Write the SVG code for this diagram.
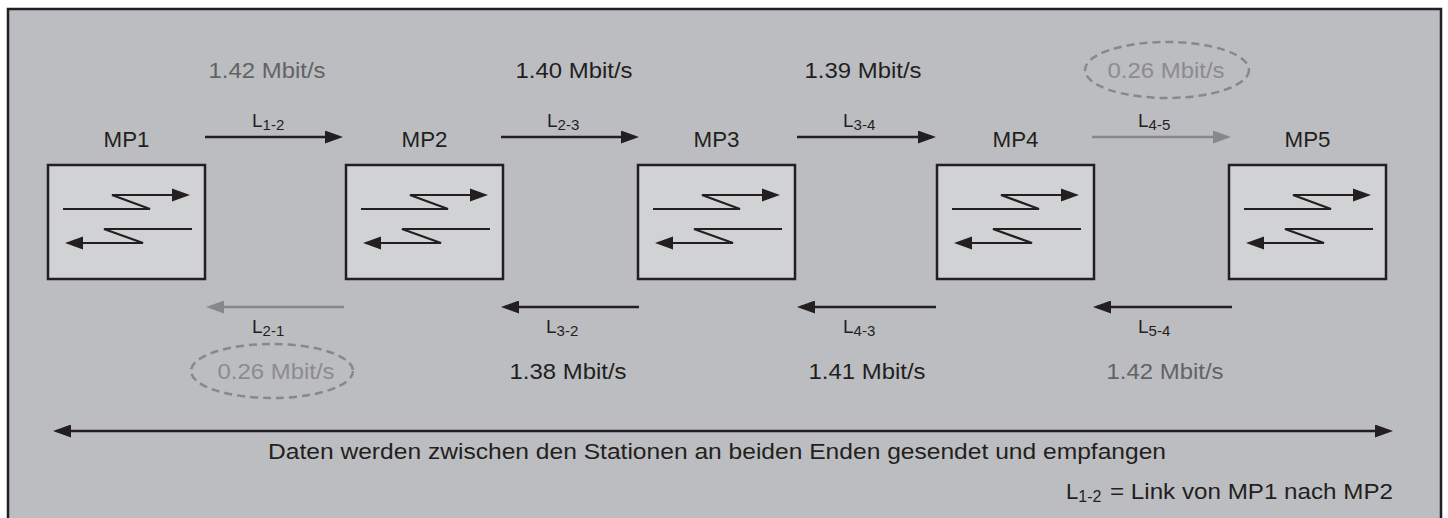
<svg xmlns="http://www.w3.org/2000/svg" xmlns:xlink="http://www.w3.org/1999/xlink" width="1448" height="518" viewBox="0 0 1448 518">
<style>
text{font-family:"Liberation Sans",Arial,Helvetica,sans-serif;fill:#231f20}
.mp{font-size:22px;text-anchor:middle}
.rate{font-size:22px;text-anchor:middle}
.gray{fill:#626365}
.light{fill:#8b8c8f}
.lbl{font-size:19px}
.sub{font-size:15px}
.box{fill:#d1d2d4;stroke:#231f20;stroke-width:2.5}
.sym{fill:none;stroke:#231f20;stroke-width:2.2}
.head{fill:#231f20}
.conn{stroke:#231f20;stroke-width:2.5;fill:none}
.conn.g{stroke:#87888a}
.ell{fill:none;stroke:#87888a;stroke-width:2.5;stroke-dasharray:8 5}
</style>
<defs>
<marker id="ah" markerUnits="userSpaceOnUse" markerWidth="18" markerHeight="13" refX="14" refY="6.5" orient="auto-start-reverse">
<path d="M0,0 L18,6.5 L0,13 z" fill="#231f20"/>
</marker>
<marker id="ahg" markerUnits="userSpaceOnUse" markerWidth="18" markerHeight="13" refX="14" refY="6.5" orient="auto-start-reverse">
<path d="M0,0 L18,6.5 L0,13 z" fill="#87888a"/>
</marker>
<g id="sym">
<path class="sym" d="M15,44 H102 L64,30 H126"/>
<path class="head" d="M124,23.5 L142,30 L124,36.5 z"/>
<path class="sym" d="M144,64 H56 L95,78 H32"/>
<path class="head" d="M35,71.5 L17,78 L35,84.5 z"/>
</g>
</defs>
<rect x="0" y="0" width="1448" height="518" fill="#ffffff"/>
<rect x="8" y="9" width="1433" height="530" fill="#bcbdc0" stroke="#231f20" stroke-width="2.5"/>

<g id="mp1" transform="translate(48,165)">
<rect class="box" width="157" height="114"/>
<use href="#sym" xlink:href="#sym"/>
<text class="mp" x="78.5" y="-18" textLength="46" lengthAdjust="spacingAndGlyphs">MP1</text>
</g>
<g id="mp2" transform="translate(346,165)">
<rect class="box" width="157" height="114"/>
<use href="#sym" xlink:href="#sym"/>
<text class="mp" x="78.5" y="-18" textLength="46" lengthAdjust="spacingAndGlyphs">MP2</text>
</g>
<g id="mp3" transform="translate(638,165)">
<rect class="box" width="157" height="114"/>
<use href="#sym" xlink:href="#sym"/>
<text class="mp" x="78.5" y="-18" textLength="46" lengthAdjust="spacingAndGlyphs">MP3</text>
</g>
<g id="mp4" transform="translate(937,165)">
<rect class="box" width="157" height="114"/>
<use href="#sym" xlink:href="#sym"/>
<text class="mp" x="78.5" y="-18" textLength="46" lengthAdjust="spacingAndGlyphs">MP4</text>
</g>
<g id="mp5" transform="translate(1229,165)">
<rect class="box" width="157" height="114"/>
<use href="#sym" xlink:href="#sym"/>
<text class="mp" x="78.5" y="-18" textLength="46" lengthAdjust="spacingAndGlyphs">MP5</text>
</g>

<g id="connectors">
<line class="conn" x1="205" y1="137" x2="339" y2="137" marker-end="url(#ah)"/>
<line class="conn" x1="501" y1="137" x2="635" y2="137" marker-end="url(#ah)"/>
<line class="conn" x1="797" y1="137" x2="932" y2="137" marker-end="url(#ah)"/>
<line class="conn g" x1="1092" y1="137" x2="1227" y2="137" marker-end="url(#ahg)"/>
<line class="conn g" x1="344" y1="307" x2="210" y2="307" marker-end="url(#ahg)"/>
<line class="conn" x1="639" y1="307" x2="505" y2="307" marker-end="url(#ah)"/>
<line class="conn" x1="936" y1="307" x2="801" y2="307" marker-end="url(#ah)"/>
<line class="conn" x1="1232" y1="307" x2="1097" y2="307" marker-end="url(#ah)"/>
<line class="conn" x1="57" y1="431" x2="1389" y2="431" marker-start="url(#ah)" marker-end="url(#ah)"/>

<text class="lbl" x="252" y="127">L<tspan class="sub" dy="3">1-2</tspan></text>
<text class="lbl" x="547" y="127">L<tspan class="sub" dy="3">2-3</tspan></text>
<text class="lbl" x="843" y="127">L<tspan class="sub" dy="3">3-4</tspan></text>
<text class="lbl" x="1138" y="127">L<tspan class="sub" dy="3">4-5</tspan></text>
<text class="lbl" x="252" y="333">L<tspan class="sub" dy="3">2-1</tspan></text>
<text class="lbl" x="546" y="333">L<tspan class="sub" dy="3">3-2</tspan></text>
<text class="lbl" x="843" y="333">L<tspan class="sub" dy="3">4-3</tspan></text>
<text class="lbl" x="1138" y="333">L<tspan class="sub" dy="3">5-4</tspan></text>

<text class="rate gray" x="267" y="78" textLength="117" lengthAdjust="spacingAndGlyphs">1.42 Mbit/s</text>
<text class="rate" x="574" y="78" textLength="117" lengthAdjust="spacingAndGlyphs">1.40 Mbit/s</text>
<text class="rate" x="863" y="78" textLength="117" lengthAdjust="spacingAndGlyphs">1.39 Mbit/s</text>
<ellipse class="ell" cx="1167" cy="70" rx="82" ry="28"/>
<text class="rate light" x="1166" y="78" textLength="117" lengthAdjust="spacingAndGlyphs">0.26 Mbit/s</text>

<ellipse class="ell" cx="272" cy="371" rx="81" ry="27"/>
<text class="rate light" x="276" y="379" textLength="117" lengthAdjust="spacingAndGlyphs">0.26 Mbit/s</text>
<text class="rate" x="568" y="379" textLength="117" lengthAdjust="spacingAndGlyphs">1.38 Mbit/s</text>
<text class="rate" x="867" y="379" textLength="117" lengthAdjust="spacingAndGlyphs">1.41 Mbit/s</text>
<text class="rate gray" x="1165" y="379" textLength="117" lengthAdjust="spacingAndGlyphs">1.42 Mbit/s</text>

<text x="717" y="459" font-size="22" text-anchor="middle" textLength="898" lengthAdjust="spacingAndGlyphs">Daten werden zwischen den Stationen an beiden Enden gesendet und empfangen</text>
<text x="1066" y="499" font-size="22">L<tspan font-size="16" dy="3">1-2</tspan></text>
<text x="1393" y="499" font-size="22" text-anchor="end" textLength="283" lengthAdjust="spacingAndGlyphs">= Link von MP1 nach MP2</text>
</g>
</svg>
